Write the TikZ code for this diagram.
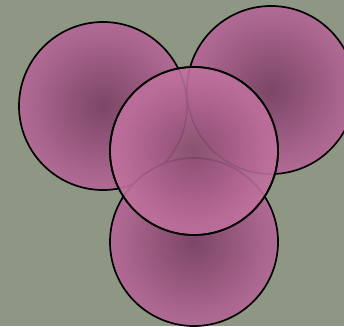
\documentclass[tikz,border=0pt]{standalone}
\definecolor{bg}{HTML}{8E9684}
\definecolor{pdark}{HTML}{7C4666}
\definecolor{pmid}{HTML}{AC6790}
\definecolor{plight}{HTML}{D084AD}
\definecolor{mdark}{HTML}{8A4B6F}
\definecolor{mmid}{HTML}{BE6F9C}
\definecolor{mlight}{HTML}{D87DAB}
\pgfdeclareradialshading{pinkball}{\pgfpoint{0bp}{0bp}}{color(0bp)=(pdark); color(22bp)=(pmid); color(50bp)=(plight)}
\pgfdeclareradialshading{midball}{\pgfpoint{0bp}{0bp}}{color(0bp)=(mdark); color(22bp)=(mmid); color(50bp)=(mlight)}
\tikzset{
  ball/.style={shading=pinkball, draw=black, line width=1.7pt},
  midballstyle/.style={shading=midball, draw=black, line width=1.7pt},
}
\begin{document}
\begin{tikzpicture}[x=1pt,y=-1pt]
\fill[bg] (0,0) rectangle (344,326);
\useasboundingbox (0,0) rectangle (344,326);
\begin{scope}
\clip (0,0) rectangle (344,326);
\shade[ball] (103,106) circle[radius=84];
\shade[ball] (271,90) circle[radius=84];
\shade[ball] (194,242) circle[radius=84];
\shade[midballstyle, fill opacity=0.9] (194,151) circle[radius=84];
\draw[black, line width=1.7pt] (194,151) circle[radius=84];
\end{scope}
\end{tikzpicture}
\end{document}
